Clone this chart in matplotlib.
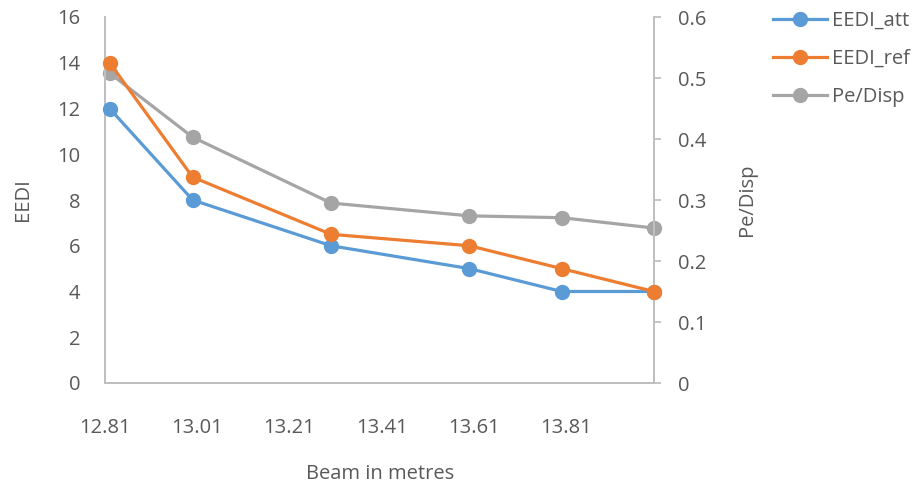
import matplotlib
matplotlib.use('Agg')
import matplotlib.pyplot as plt

beam=[12.82,13.0,13.3,13.6,13.8,14.0]
eedi_att=[12,8,6,5,4,4]
eedi_ref=[14,9,6.5,6,5,4]
pe_disp=[0.508,0.403,0.295,0.274,0.271,0.254]
xticks=[12.81,13.01,13.21,13.41,13.61,13.81]

plt.rcParams['font.family']=['Open Sans','DejaVu Sans']
txt='#595959'
axc='#BFBFBF'
W,H=922,491
fs=14.5

fig=plt.figure(figsize=(W/100,H/100),dpi=100)
ax=fig.add_axes([105/W,(H-383)/H,(654-105)/W,(383-17)/H])
ax2=ax.twinx()

l1,=ax.plot(beam,eedi_att,color='#5B9BD5',lw=2.3,marker='o',ms=10,label='EEDI_att',clip_on=False,zorder=3)
l2,=ax.plot(beam,eedi_ref,color='#ED7D31',lw=2.3,marker='o',ms=10,label='EEDI_ref',clip_on=False,zorder=4)
l3,=ax2.plot(beam,pe_disp,color='#A5A5A5',lw=2.3,marker='o',ms=10,label='Pe/Disp',clip_on=False)
ax.set_zorder(ax2.get_zorder()+1)
ax.patch.set_visible(False)

ax.set_xlim(12.81,14.0)
ax.set_ylim(0,16)
ax2.set_ylim(0,0.6)
ax.set_xticks(xticks)
ax.set_xticklabels(['%.2f'%v for v in xticks])
ax.set_yticks(range(0,17,2))
ax2.set_yticks([0,0.1,0.2,0.3,0.4,0.5,0.6])
ax2.set_yticklabels(['0','0.1','0.2','0.3','0.4','0.5','0.6'])

for a in (ax,ax2):
    a.spines['top'].set_visible(False)
    for s in ('left','right','bottom'):
        a.spines[s].set_color(axc)
        a.spines[s].set_linewidth(1.3)
ax.tick_params(axis='x',length=0,pad=25,labelsize=fs,labelcolor=txt)
ax.tick_params(axis='y',length=0,pad=18,labelsize=fs,labelcolor=txt)
ax2.tick_params(axis='y',length=5,width=1.3,color=axc,pad=12,labelsize=fs,labelcolor=txt)

fig.text(23/W,1-200/H,'EEDI',rotation=90,ha='center',va='center',fontsize=fs,color=txt)
fig.text(747/W,1-200/H,'Pe/Disp',rotation=90,ha='center',va='center',fontsize=fs,color=txt)
fig.text(380/W,1-474/H,'Beam in metres',ha='center',va='center',fontsize=fs,color=txt)

leg=fig.legend(handles=[l1,l2,l3],loc='upper left',bbox_to_anchor=(773/W,1-11/H),frameon=False,
               fontsize=fs,labelcolor=txt,handlelength=2.7,handletextpad=0.25,labelspacing=0.9,
               borderaxespad=0,borderpad=0)

fig.savefig('out.png',dpi=100)
